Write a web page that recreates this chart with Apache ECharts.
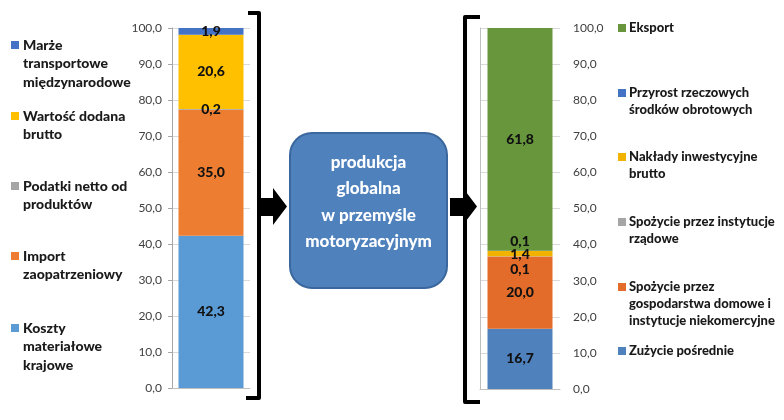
<!DOCTYPE html>
<html><head><meta charset="utf-8">
<script src="https://cdn.jsdelivr.net/npm/echarts@6/dist/echarts.min.js"></script>
<style>html,body{margin:0;padding:0;background:#fff}#c{width:784px;height:420px}</style>
</head><body><div id="c"></div>
<script>
// ---- data ----
const leftNames = ['Koszty materiałowe krajowe','Import zaopatrzeniowy','Podatki netto od produktów','Wartość dodana brutto','Marże transportowe międzynarodowe'];
const leftLegendText = ['Koszty\nmateriałowe\nkrajowe','Import\nzaopatrzeniowy','Podatki netto od\nproduktów','Wartość dodana\nbrutto','Marże\ntransportowe\nmiędzynarodowe'];
const leftValues = [42.3, 35.0, 0.2, 20.6, 1.9];
const rightNames = ['Zużycie pośrednie','Spożycie przez gospodarstwa domowe i instytucje niekomercyjne','Spożycie przez instytucje rządowe','Nakłady inwestycyjne brutto','Przyrost rzeczowych środków obrotowych','Eksport'];
const rightLegendText = ['Zużycie pośrednie','Spożycie przez\ngospodarstwa domowe i\ninstytucje niekomercyjne','Spożycie przez instytucje\nrządowe','Nakłady inwestycyjne\nbrutto','Przyrost rzeczowych\nśrodków obrotowych','Eksport'];
const rightValues = [16.7, 20.0, 0.1, 1.4, 0.1, 61.8];
const yTickLabels = ['0,0','10,0','20,0','30,0','40,0','50,0','60,0','70,0','80,0','90,0','100,0'];
const boxText = ['produkcja','globalna','w przemyśle','motoryzacyjnym'];

// ---- styles / layout ----
const FONT = 'Lato';
const leftColors = ['#5B9BD5','#ED7D31','#A5A5A5','#FFC000','#4472C4'];
const rightColors = ['#4F81BD','#E36C2A','#A5A5A5','#F2B200','#4472C4','#67963C'];
const leftLegendY = [328, 256, 186, 116, 45];
const rightLegendY = [351, 287, 222, 157, 93, 28];
const rightLabelOffsets = [0, 0, 13, 1, -9.5, 0];

const fmt = v => v.toFixed(1).replace('.', ',');

const labelStyle = { show: true, position: 'inside', formatter: p => fmt(p.value), color: '#111', fontFamily: FONT, fontWeight: 900, fontSize: 14 };
const series = [];
leftNames.forEach((n, i) => series.push({
  name: n, type: 'bar', stack: 'L', xAxisIndex: 0, yAxisIndex: 0, barWidth: 65,
  data: [leftValues[i]], itemStyle: { color: leftColors[i] },
  label: Object.assign({}, labelStyle)
}));
rightNames.forEach((n, i) => series.push({
  name: n, type: 'bar', stack: 'R', xAxisIndex: 1, yAxisIndex: 1, barWidth: 65,
  data: [rightValues[i]], itemStyle: { color: rightColors[i] },
  label: Object.assign({ offset: [0, rightLabelOffsets[i]] }, labelStyle)
}));

const graphic = [];
function legendItems(texts, colors, ys, mx, tx, lh, fs) {
  texts.forEach((t, i) => {
    graphic.push({ type: 'rect', shape: { x: mx, y: ys[i] - 4, width: 8, height: 8 }, style: { fill: colors[i] } });
    graphic.push({ type: 'text', x: tx, y: ys[i] - lh / 2, style: { text: t, fill: '#1a1a1a', font: '900 ' + fs + 'px ' + FONT, lineHeight: lh, textAlign: 'left', textVerticalAlign: 'top' } });
  });
}
legendItems(leftLegendText, leftColors, leftLegendY, 11, 23, 18.5, 14);
legendItems(rightLegendText, rightColors, rightLegendY, 618, 629, 17, 13);

// brackets
graphic.push({ type: 'polyline', shape: { points: [[248,13],[259,13],[259,398],[246,398]] }, style: { stroke: '#000', lineWidth: 4, fill: null, lineJoin: 'round' } });
graphic.push({ type: 'polyline', shape: { points: [[480,17],[465,17],[465,402],[480,402]] }, style: { stroke: '#000', lineWidth: 4, fill: null, lineJoin: 'round' } });
// arrows
graphic.push({ type: 'polygon', shape: { points: [[258,198],[273,198],[273,188],[287,206.5],[273,225],[273,216],[258,216]] }, style: { fill: '#000' } });
graphic.push({ type: 'polygon', shape: { points: [[450,198],[463,198],[463,188],[477,206.5],[463,225],[463,216],[450,216]] }, style: { fill: '#000' } });
// box
graphic.push({ type: 'rect', shape: { x: 290, y: 133, width: 157, height: 155, r: 22 }, style: { fill: '#4F81BD', stroke: '#3A679E', lineWidth: 2 } });
graphic.push({ type: 'text', x: 368.5, y: 149.5, style: { text: boxText.join('\n'), fill: '#fff', font: '900 17px ' + FONT, lineHeight: 26.3, textAlign: 'center', textVerticalAlign: 'top' } });

const axisLabelStyle = { color: '#404040', fontFamily: FONT, fontSize: 12 };
const option = {
  animation: false,
  grid: [
    { left: 172, top: 28, width: 78, height: 360 },
    { left: 480, top: 28, width: 80, height: 361 }
  ],
  xAxis: [
    { type: 'category', gridIndex: 0, data: ['L'], axisLabel: { show: false }, axisTick: { show: false }, axisLine: { lineStyle: { color: '#BFBFBF' } } },
    { type: 'category', gridIndex: 1, data: ['R'], axisLabel: { show: false }, axisTick: { show: false }, axisLine: { lineStyle: { color: '#BFBFBF' } } }
  ],
  yAxis: [
    { type: 'value', gridIndex: 0, min: 0, max: 100, interval: 10, position: 'left',
      axisLine: { show: true, lineStyle: { color: '#A6A6A6' } }, axisTick: { show: true, length: 4, lineStyle: { color: '#A6A6A6' } },
      axisLabel: Object.assign({ margin: 10, formatter: v => yTickLabels[Math.round(v / 10)] }, axisLabelStyle),
      splitLine: { lineStyle: { color: '#D9D9D9' } } },
    { type: 'value', gridIndex: 1, min: 0, max: 100, interval: 10, position: 'right',
      axisLine: { show: false }, axisTick: { show: false },
      axisLabel: Object.assign({ margin: 13, formatter: v => yTickLabels[Math.round(v / 10)] }, axisLabelStyle),
      splitLine: { lineStyle: { color: '#D9D9D9' } } },
    { type: 'value', gridIndex: 1, min: 0, max: 100, interval: 10, position: 'left',
      axisLine: { show: true, lineStyle: { color: '#BFBFBF' } }, axisTick: { show: false }, axisLabel: { show: false }, splitLine: { show: false } }
  ],
  series: series,
  graphic: graphic
};
const chart = echarts.init(document.getElementById('c'), null, { renderer: 'canvas' });
chart.setOption(option);
</script></body></html>
